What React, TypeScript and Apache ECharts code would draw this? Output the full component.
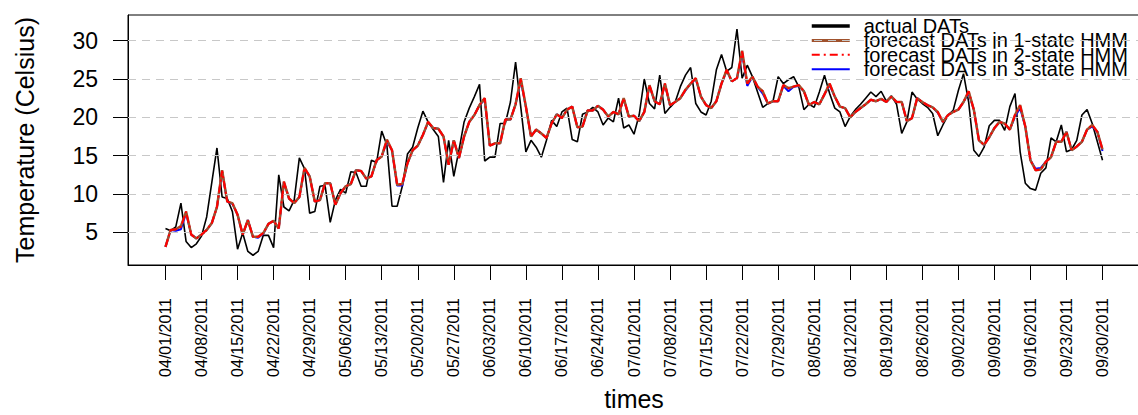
import React, { useEffect, useRef } from "react";
import * as echarts from "echarts";

const FONT = "'Liberation Sans', Arial, Helvetica, sans-serif";

const tickLabels = [
  "04/01/2011", "04/08/2011", "04/15/2011", "04/22/2011", "04/29/2011", "05/06/2011", "05/13/2011",
  "05/20/2011", "05/27/2011", "06/03/2011", "06/10/2011", "06/17/2011", "06/24/2011", "07/01/2011",
  "07/08/2011", "07/15/2011", "07/22/2011", "07/29/2011", "08/05/2011", "08/12/2011", "08/19/2011",
  "08/26/2011", "09/02/2011", "09/09/2011", "09/16/2011", "09/23/2011", "09/30/2011",
];
const tickDays = [0, 7, 14, 21, 28, 35, 42, 49, 56, 63, 70, 77, 84, 91, 98, 105, 112, 119, 126, 133, 140, 147, 154, 161, 168, 175, 182];
const yTicks = [5, 10, 15, 20, 25, 30];

const seriesNames = [
  "actual DATs",
  "forecast DATs in 1-state HMM",
  "forecast DATs in 2-state HMM",
  "forecast DATs in 3-state HMM",
];

const actual = [
  5.5, 5.2, 5.7, 8.8, 3.8, 3.0, 3.5, 4.5, 7.0, 11.5,
  16.0, 9.6, 9.4, 7.7, 2.8, 4.9, 2.5, 2.0, 2.5, 4.6,
  4.6, 3.0, 12.5, 8.3, 7.8, 9.2, 14.7, 13.3, 7.5, 7.7,
  11.0, 11.1, 6.3, 9.2, 10.6, 10.1, 12.9, 12.8, 11.0, 11.0,
  14.4, 14.1, 18.2, 16.4, 8.4, 8.4, 11.0, 15.2, 16.1, 18.6,
  20.8, 19.4, 18.4, 17.5, 11.5, 17.0, 12.3, 15.7, 19.4, 21.2,
  22.7, 24.3, 14.3, 14.8, 14.8, 19.2, 19.2, 22.0, 27.2, 21.4,
  15.5, 17.0, 16.1, 14.8, 17.0, 19.6, 18.8, 20.7, 21.2, 17.1,
  16.8, 20.4, 20.7, 21.3, 20.7, 19.0, 19.9, 19.4, 22.5, 18.6,
  19.0, 17.8, 20.3, 25.0, 21.8, 21.1, 25.5, 20.5, 21.3, 22.0,
  24.0, 25.5, 26.5, 21.8, 20.7, 20.3, 22.1, 26.2, 28.2, 26.0,
  26.5, 31.5, 25.1, 26.8, 25.3, 23.3, 21.3, 21.8, 22.1, 25.3,
  24.4, 24.9, 25.3, 24.0, 21.0, 21.7, 21.3, 23.3, 25.5, 23.1,
  21.2, 20.7, 18.8, 20.1, 21.0, 21.7, 22.5, 23.3, 22.7, 23.4,
  22.1, 22.8, 21.7, 17.9, 19.4, 23.3, 22.4, 21.8, 21.3, 20.5,
  17.6, 19.0, 20.3, 20.9, 23.5, 25.7, 22.0, 15.7, 14.9, 16.1,
  18.9, 19.6, 19.6, 18.3, 21.4, 23.1, 15.5, 11.4, 10.7, 10.5,
  12.7, 13.4, 17.3, 16.8, 19.0, 15.5, 15.8, 17.0, 20.3, 21.0,
  19.2, 16.8, 14.4,
];

const hmm1 = [
  3.1, 5.3, 5.4, 5.8, 7.7, 4.7, 4.2, 4.7, 5.3, 6.2,
  8.3, 13.1, 9.0, 8.8, 7.3, 4.7, 6.6, 4.4, 4.4, 4.9,
  6.1, 6.5, 5.5, 11.6, 9.4, 8.8, 9.6, 13.4, 12.3, 9.0,
  9.2, 11.4, 11.4, 8.6, 10.1, 11.0, 11.3, 13.1, 13.0, 12.0,
  12.3, 14.4, 14.9, 17.1, 15.7, 11.2, 11.3, 14.0, 15.7, 16.3,
  17.7, 19.4, 18.6, 18.5, 17.5, 13.8, 17.0, 14.7, 17.5, 19.4,
  20.3, 21.6, 22.5, 16.3, 16.6, 16.6, 19.7, 19.7, 21.7, 25.1,
  21.4, 17.5, 18.4, 17.9, 17.3, 19.2, 20.4, 19.9, 21.0, 21.4,
  18.7, 18.8, 20.9, 20.9, 21.5, 21.0, 20.1, 20.7, 20.4, 22.5,
  20.1, 20.2, 19.5, 20.7, 24.2, 22.1, 21.7, 24.4, 21.6, 22.0,
  22.5, 23.6, 24.4, 25.1, 22.7, 21.6, 21.2, 22.1, 24.4, 26.2,
  24.7, 25.1, 28.7, 24.4, 25.3, 24.0, 23.4, 21.8, 22.1, 22.1,
  24.2, 23.8, 24.0, 24.2, 23.4, 21.6, 22.0, 21.7, 23.0, 24.4,
  22.7, 21.4, 21.2, 20.0, 20.7, 21.2, 21.7, 22.3, 22.1, 22.4,
  22.0, 22.7, 22.0, 22.0, 19.5, 19.9, 22.5, 22.0, 21.6, 21.3,
  20.7, 19.4, 20.3, 20.7, 21.0, 22.0, 23.4, 21.0, 17.0, 16.4,
  17.4, 18.6, 19.4, 19.2, 18.4, 20.3, 21.6, 18.8, 14.4, 13.1,
  13.2, 14.2, 14.8, 16.8, 16.8, 18.1, 15.7, 16.2, 16.8, 18.4,
  19.0, 18.1, 15.8,
];

const hmm2 = [
  3.1, 5.3, 5.4, 5.7, 7.7, 4.7, 4.2, 4.7, 5.3, 6.2,
  8.3, 13.0, 9.0, 8.8, 7.3, 4.7, 6.6, 4.4, 4.4, 4.9,
  6.1, 6.5, 5.5, 11.6, 9.4, 8.8, 9.6, 13.4, 12.3, 9.0,
  9.2, 11.4, 11.4, 8.6, 10.1, 11.0, 11.3, 13.1, 13.0, 12.0,
  12.3, 14.4, 14.9, 17.0, 15.7, 11.2, 11.3, 14.0, 15.7, 16.3,
  17.7, 19.4, 18.6, 18.5, 17.5, 13.8, 17.0, 14.7, 17.5, 19.4,
  20.3, 21.6, 22.5, 16.3, 16.6, 16.6, 19.7, 19.7, 21.7, 25.0,
  21.4, 17.5, 18.4, 17.9, 17.3, 19.2, 20.4, 19.9, 21.0, 21.4,
  18.7, 18.8, 20.9, 20.9, 21.5, 21.0, 20.1, 20.7, 20.4, 22.5,
  20.1, 20.2, 19.5, 20.7, 24.2, 22.1, 21.7, 24.4, 21.6, 22.0,
  22.5, 23.6, 24.4, 25.1, 22.7, 21.6, 21.2, 22.1, 24.4, 26.2,
  24.7, 25.1, 28.6, 24.4, 25.3, 24.0, 23.4, 21.8, 22.1, 22.1,
  24.2, 23.8, 24.0, 24.2, 23.4, 21.6, 22.0, 21.7, 23.0, 24.4,
  22.7, 21.4, 21.2, 20.0, 20.7, 21.2, 21.7, 22.3, 22.1, 22.4,
  22.0, 22.7, 22.0, 22.0, 19.5, 19.9, 22.5, 22.0, 21.6, 21.3,
  20.7, 19.4, 20.3, 20.7, 21.0, 22.0, 23.4, 21.0, 17.0, 16.4,
  17.4, 18.6, 19.4, 19.2, 18.4, 20.3, 21.5, 18.8, 14.4, 13.1,
  13.2, 14.2, 14.8, 16.8, 16.8, 18.1, 15.7, 16.2, 16.8, 18.4,
  19.0, 18.1, 15.8,
];

const hmm3 = [
  3.1, 5.3, 5.2, 5.4, 7.5, 4.7, 4.2, 4.7, 5.3, 6.2,
  8.3, 12.9, 9.0, 8.7, 7.3, 4.7, 6.6, 4.4, 4.3, 4.8,
  6.1, 6.5, 5.5, 11.5, 9.4, 8.8, 9.6, 13.3, 12.3, 9.0,
  9.2, 11.4, 11.4, 8.6, 10.1, 11.0, 11.3, 13.1, 13.0, 12.0,
  12.3, 14.4, 14.9, 16.9, 15.7, 11.1, 11.1, 14.0, 15.7, 16.3,
  17.7, 19.3, 18.6, 18.5, 17.5, 13.8, 17.0, 14.7, 17.5, 19.4,
  20.3, 21.6, 22.3, 16.3, 16.6, 16.6, 19.7, 19.7, 21.7, 24.8,
  21.4, 17.5, 18.4, 17.9, 17.3, 19.2, 20.4, 19.9, 21.0, 21.4,
  18.7, 18.8, 20.9, 20.9, 21.5, 21.0, 20.1, 20.7, 20.4, 22.4,
  20.1, 20.2, 19.5, 20.7, 24.1, 22.1, 21.7, 24.3, 21.6, 22.0,
  22.5, 23.5, 24.4, 25.0, 22.7, 21.6, 21.2, 22.1, 24.4, 26.1,
  24.7, 25.1, 28.4, 24.1, 25.3, 24.0, 23.1, 21.8, 22.1, 22.1,
  24.1, 23.4, 24.0, 24.1, 23.4, 21.6, 22.0, 21.7, 23.0, 24.2,
  22.7, 21.4, 21.2, 20.0, 20.7, 21.2, 21.7, 22.3, 22.1, 22.4,
  22.0, 22.7, 22.0, 22.0, 19.5, 19.9, 22.5, 22.0, 21.6, 21.3,
  20.6, 19.4, 20.3, 20.7, 21.0, 22.0, 23.2, 21.0, 17.0, 16.4,
  17.4, 18.6, 19.4, 19.2, 18.4, 20.1, 21.2, 18.8, 14.4, 13.3,
  13.4, 14.2, 14.8, 16.8, 16.8, 18.1, 15.7, 16.2, 16.8, 18.4,
  18.8, 18.1, 15.6,
];

const toPoints = (arr: number[]) => arr.map((v, i) => [i, v]);

export default function App() {
  const ref = useRef<HTMLDivElement>(null);

  useEffect(() => {
    if (!ref.current) return;
    const chart = echarts.init(ref.current, null, { renderer: "svg" });

    const option: any = {
      animation: false,
      backgroundColor: "#ffffff",
      textStyle: { fontFamily: FONT, color: "#000" },
      grid: {
        show: true,
        left: 128,
        right: -2,
        top: 15,
        bottom: 150,
        containLabel: false,
        outerBoundsMode: "none",
        borderColor: "#000",
        borderWidth: 1,
        backgroundColor: "transparent",
      },
      xAxis: {
        type: "value",
        min: -7.28,
        max: 189.28,
        axisLine: { show: true, onZero: false, lineStyle: { color: "#000", width: 1 } },
        axisTick: {
          show: true,
          customValues: tickDays,
          length: 15,
          inside: false,
          lineStyle: { color: "#000", width: 1 },
        },
        axisLabel: {
          show: true,
          customValues: tickDays,
          rotate: 90,
          margin: 33,
          fontSize: 16,
          fontFamily: FONT,
          color: "#000",
          formatter: (v: number) => {
            const k = tickDays.indexOf(Math.round(v));
            return k >= 0 ? tickLabels[k] : "";
          },
        },
        splitLine: { show: false },
        name: "times",
        nameLocation: "middle",
        nameGap: 121,
        nameTextStyle: { fontSize: 25, fontFamily: FONT, color: "#000" },
      },
      yAxis: {
        type: "value",
        min: 0.73,
        max: 33.35,
        axisLine: { show: true, onZero: false, lineStyle: { color: "#000", width: 1 } },
        axisTick: {
          show: true,
          customValues: yTicks,
          length: 15,
          inside: false,
          lineStyle: { color: "#000", width: 1 },
        },
        axisLabel: {
          show: true,
          customValues: yTicks,
          margin: 30,
          fontSize: 23,
          fontFamily: FONT,
          color: "#000",
        },
        splitLine: { show: false },
        name: "Temperature (Celsius)",
        nameLocation: "middle",
        nameRotate: 90,
        nameGap: 91,
        nameTextStyle: { fontSize: 25, fontFamily: FONT, color: "#000" },
      },
      legend: {
        show: true,
        orient: "vertical",
        left: 810,
        top: 16,
        itemWidth: 38,
        itemHeight: 14,
        itemGap: -5.6,
        padding: 0,
        selectedMode: false,
        itemStyle: { opacity: 0 },
        formatter: (name: string) => "{t|" + name + "}",
        textStyle: {
          fontSize: 20,
          fontFamily: FONT,
          color: "#000",
          rich: {
            t: { fontSize: 20, fontFamily: FONT, color: "#000", lineHeight: 14, padding: [0, 0, 0, 9] },
          },
        },
        data: [
          { name: seriesNames[0], itemStyle: { opacity: 0 }, lineStyle: { width: 3.5, color: "#000" } },
          { name: seriesNames[1], itemStyle: { opacity: 0 }, lineStyle: { width: 3, color: "#a0522d" } },
          { name: seriesNames[2], itemStyle: { opacity: 0 }, lineStyle: { width: 2, color: "#ff0000", type: [8, 4, 2, 4] } },
          { name: seriesNames[3], itemStyle: { opacity: 0 }, lineStyle: { width: 2, color: "#0000ff" } },
        ],
      },
      series: [
        {
          name: "gridlines",
          type: "line",
          data: [],
          silent: true,
          z: 1,
          markLine: {
            silent: true,
            symbol: ["none", "none"],
            label: { show: false },
            animation: false,
            lineStyle: { color: "#c8c8c8", width: 1, type: [8, 6] },
            data: yTicks.map((v) => ({ yAxis: v })),
          },
        },
        {
          name: seriesNames[0],
          type: "line",
          data: toPoints(actual),
          symbol: "none",
          showSymbol: false,
          z: 2,
          lineStyle: { color: "#000", width: 1.6 },
          itemStyle: { color: "#000" },
        },
        {
          name: seriesNames[3],
          type: "line",
          data: toPoints(hmm3),
          symbol: "none",
          showSymbol: false,
          z: 3,
          lineStyle: { color: "#0000ff", width: 2 },
          itemStyle: { color: "#0000ff" },
        },
        {
          name: seriesNames[1],
          type: "line",
          data: toPoints(hmm1),
          symbol: "none",
          showSymbol: false,
          z: 4,
          lineStyle: { color: "#a0522d", width: 2.5 },
          itemStyle: { color: "#a0522d" },
        },
        {
          name: seriesNames[2],
          type: "line",
          data: toPoints(hmm2),
          symbol: "none",
          showSymbol: false,
          z: 5,
          lineStyle: { color: "#ff0000", width: 2, type: [8, 3, 2, 3] },
          itemStyle: { color: "#ff0000" },
        },
      ],
    };

    chart.setOption(option);
    return () => chart.dispose();
  }, []);

  return (
    <div
      ref={ref}
      style={{ position: "absolute", left: 0, top: 0, width: 1138, height: 415, background: "#fff" }}
    />
  );
}
